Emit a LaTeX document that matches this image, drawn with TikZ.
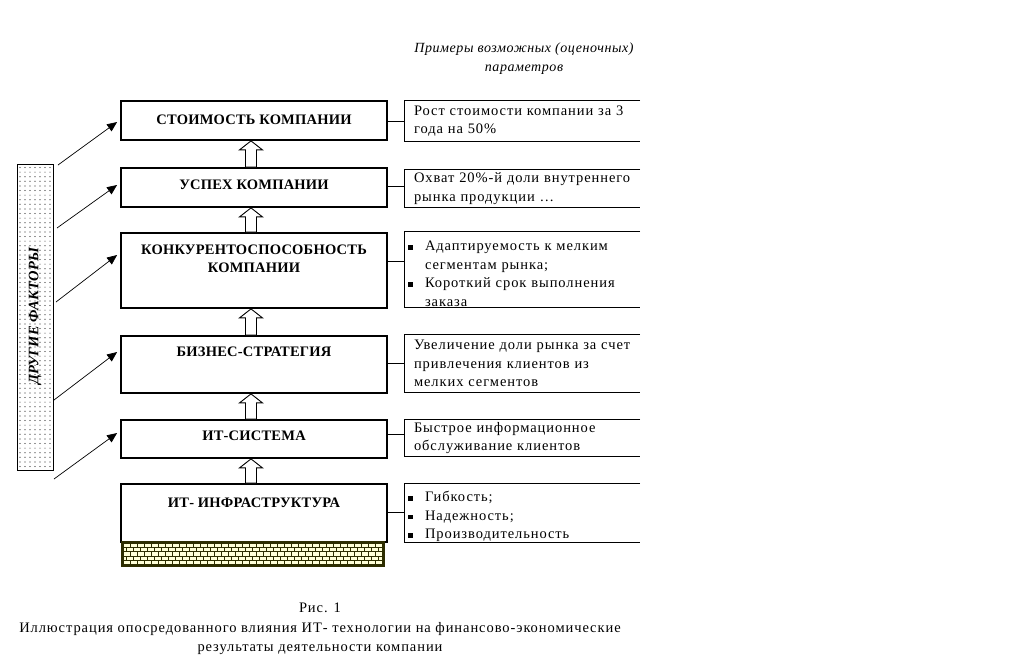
\documentclass[tikz,border=0pt]{standalone}
\usepackage{fontspec}
\setmainfont{Liberation Serif}[LetterSpace=6.4]
\newfontfamily\boldfam{Liberation Serif}[LetterSpace=1.5]
\newfontfamily\hdrfam{Liberation Serif}[LetterSpace=4]
\usetikzlibrary{arrows.meta,calc}
\definecolor{brickfill}{RGB}{255,255,215}
\definecolor{brickline}{RGB}{45,45,0}
\definecolor{dotc}{RGB}{40,40,40}
\newcommand\txtsize{\fontsize{14.5}{18.5}\selectfont}
\newcommand\bsq{\rule[1pt]{4.5pt}{4.5pt}}
\newcommand\bitem[1]{\par\noindent\hangindent=17pt\hangafter=1\makebox[17pt][l]{\bsq}#1}
\newcommand\hollowup[2]{%
  \draw[hollowstyle] let \p1=([xshift=-3pt]#1.north), \p2=(#2.south) in
    (\x1-5.5pt,\y1) -- (\x1+5.5pt,\y1) -- (\x1+5.5pt,\y2-9pt) -- (\x1+11.5pt,\y2-9pt)
    -- (\x1,\y2) -- (\x1-11.5pt,\y2-9pt) -- (\x1-5.5pt,\y2-9pt) -- cycle;}
\begin{document}
\begin{tikzpicture}[x=1pt,y=-1pt,
  mainbox/.style={draw, line width=1.8pt, minimum width=266pt, inner sep=0pt},
  maintext/.style={font=\txtsize\boldfam\bfseries, align=center, inner sep=0pt},
  parbox/.style={minimum width=235pt, inner ysep=0pt, inner xsep=9pt, font=\txtsize, align=left, text width=217pt},
  bulbox/.style={parbox, inner xsep=3pt, text width=229pt},
  openside/.style={line width=0.9pt},
  link/.style={line width=0.9pt},
  sidearrow/.style={-{Triangle[length=10pt,width=8.5pt]}, line width=0.7pt},
  hollowstyle/.style={draw, fill=white, line width=0.9pt},
  bar/.style={draw, line width=0.8pt, minimum width=36pt, minimum height=306pt, inner sep=0pt},
  brickarea/.style={draw=brickline, fill=brickfill, line width=1.6pt, minimum width=260pt, minimum height=22pt, inner sep=0pt}
]
\useasboundingbox (0,0) rectangle (1018,656);

% header
\node[font=\fontsize{14}{19}\selectfont\hdrfam\itshape, align=center] (hdr) at (524,59) {Примеры возможных (оценочных)\\параметров};

% main boxes
\node[mainbox, minimum height=39pt] (b1) at (254,120.5) {};
\node[mainbox, minimum height=39pt] (b2) at (254,187.5) {};
\node[mainbox, minimum height=75pt] (b3) at (254,270.5) {};
\node[mainbox, minimum height=57pt] (b4) at (254,364.5) {};
\node[mainbox, minimum height=38pt] (b5) at (254,439) {};
\node[mainbox, minimum height=58pt] (b6) at (254,513) {};

\node[maintext] (t1) at (254,120) {СТОИМОСТЬ КОМПАНИИ};
\node[maintext] (t2) at (254,185) {УСПЕХ КОМПАНИИ};
\node[maintext] (t3) at (254,259) {КОНКУРЕНТОСПОСОБНОСТЬ\\КОМПАНИИ};
\node[maintext] (t4) at (254,352) {БИЗНЕС-СТРАТЕГИЯ};
\node[maintext] (t5) at (254,436) {ИТ-СИСТЕМА};
\node[maintext] (t6) at (254,503) {ИТ- ИНФРАСТРУКТУРА};

% brick foundation
\node[brickarea] (br) at (253,554) {};
\begin{scope}
\clip (br.south west) rectangle (br.north east);
\foreach \r in {1,...,4} \draw[brickline, line width=1pt] (123,{543+4.4*\r}) -- (383,{543+4.4*\r});
\foreach \r in {0,...,4} {
  \pgfmathsetmacro\off{mod(\r,2)*3.5}
  \foreach \k in {0,...,37} \draw[brickline, line width=1pt] ({123+\off+7*\k},{543+4.4*\r}) -- ++(0,4.4);
}
\end{scope}
\draw[brickline, line width=1.6pt] (br.south west) rectangle (br.north east);

% hollow up arrows
\hollowup{b2}{b1}
\hollowup{b3}{b2}
\hollowup{b4}{b3}
\hollowup{b5}{b4}
\hollowup{b6}{b5}

% right parameter boxes
\node[parbox, minimum height=40pt] (r1) at (522.5,121) {Рост стоимости компании за 3\\года на 50\%};
\node[parbox, minimum height=37pt] (r2) at (522.5,188.5) {Охват 20\%-й доли внутреннего\\рынка продукции \dots};
\node[bulbox, minimum height=75pt] (r3) at (522.5,269.5) {\bitem{Адаптируемость к мелким\newline сегментам рынка;}\bitem{Короткий срок выполнения\newline заказа}\par};
\node[parbox, minimum height=57pt] (r4) at (522.5,363.5) {Увеличение доли рынка за счет\\привлечения клиентов из\\мелких сегментов};
\node[parbox, minimum height=36pt] (r5) at (522.5,438) {Быстрое информационное\\обслуживание клиентов};
\node[bulbox, minimum height=57pt] (r6) at (522.5,512.5) {\bitem{Гибкость;}\bitem{Надежность;}\bitem{Производительность}\par};

\foreach \n in {r1,r2,r3,r4,r5,r6}
  \draw[openside] (\n.north east) -- (\n.north west) -- (\n.south west) -- (\n.south east);

% connectors main -> parameters
\draw[link] (b1.east |- r1.west) -- (r1.west);
\draw[link] ([yshift=2pt]b2.east |- r2.west) -- ([yshift=2pt]r2.west);
\draw[link] ([yshift=8.5pt]b3.east |- r3.west) -- ([yshift=8.5pt]r3.west);
\draw[link] (b4.east |- r4.west) -- (r4.west);
\draw[link] ([yshift=4pt]b5.east |- r5.west) -- ([yshift=4pt]r5.west);
\draw[link] (b6.east |- r6.west) -- (r6.west);

% other factors bar
\node[bar] (bar) at (35,317) {};
\foreach \i in {0,...,6} \foreach \j in {0,...,65}
  \fill[dotc] ({20+5*\i},{167.5+4.6*\j}) circle (0.6);
\node[font=\txtsize\boldfam\bfseries\itshape, rotate=90] (bartxt) at (35,316) {ДРУГИЕ ФАКТОРЫ};

% arrows from bar
\coordinate (s1) at (58,165);
\coordinate (s2) at (57,228);
\coordinate (s3) at (56,302);
\coordinate (s4) at (54,400);
\coordinate (s5) at (54,479);
\draw[sidearrow] (s1) -- ([xshift=-3pt,yshift=-1.5pt]b1.west);
\draw[sidearrow] (s2) -- ([xshift=-3pt,yshift=2.5pt]b2.west);
\draw[sidearrow] (s3) -- ([xshift=-3pt,yshift=15.5pt]b3.west);
\draw[sidearrow] (s4) -- ([xshift=-3pt,yshift=12.5pt]b4.west);
\draw[sidearrow] (s5) -- ([xshift=-3pt,yshift=6pt]b5.west);

% caption
\node[font=\fontsize{14.5}{19.5}\selectfont, align=center] (cap) at (320,629) {Рис. 1\\Иллюстрация опосредованного влияния ИТ- технологии на финансово-экономические\\результаты деятельности компании};
\end{tikzpicture}
\end{document}
